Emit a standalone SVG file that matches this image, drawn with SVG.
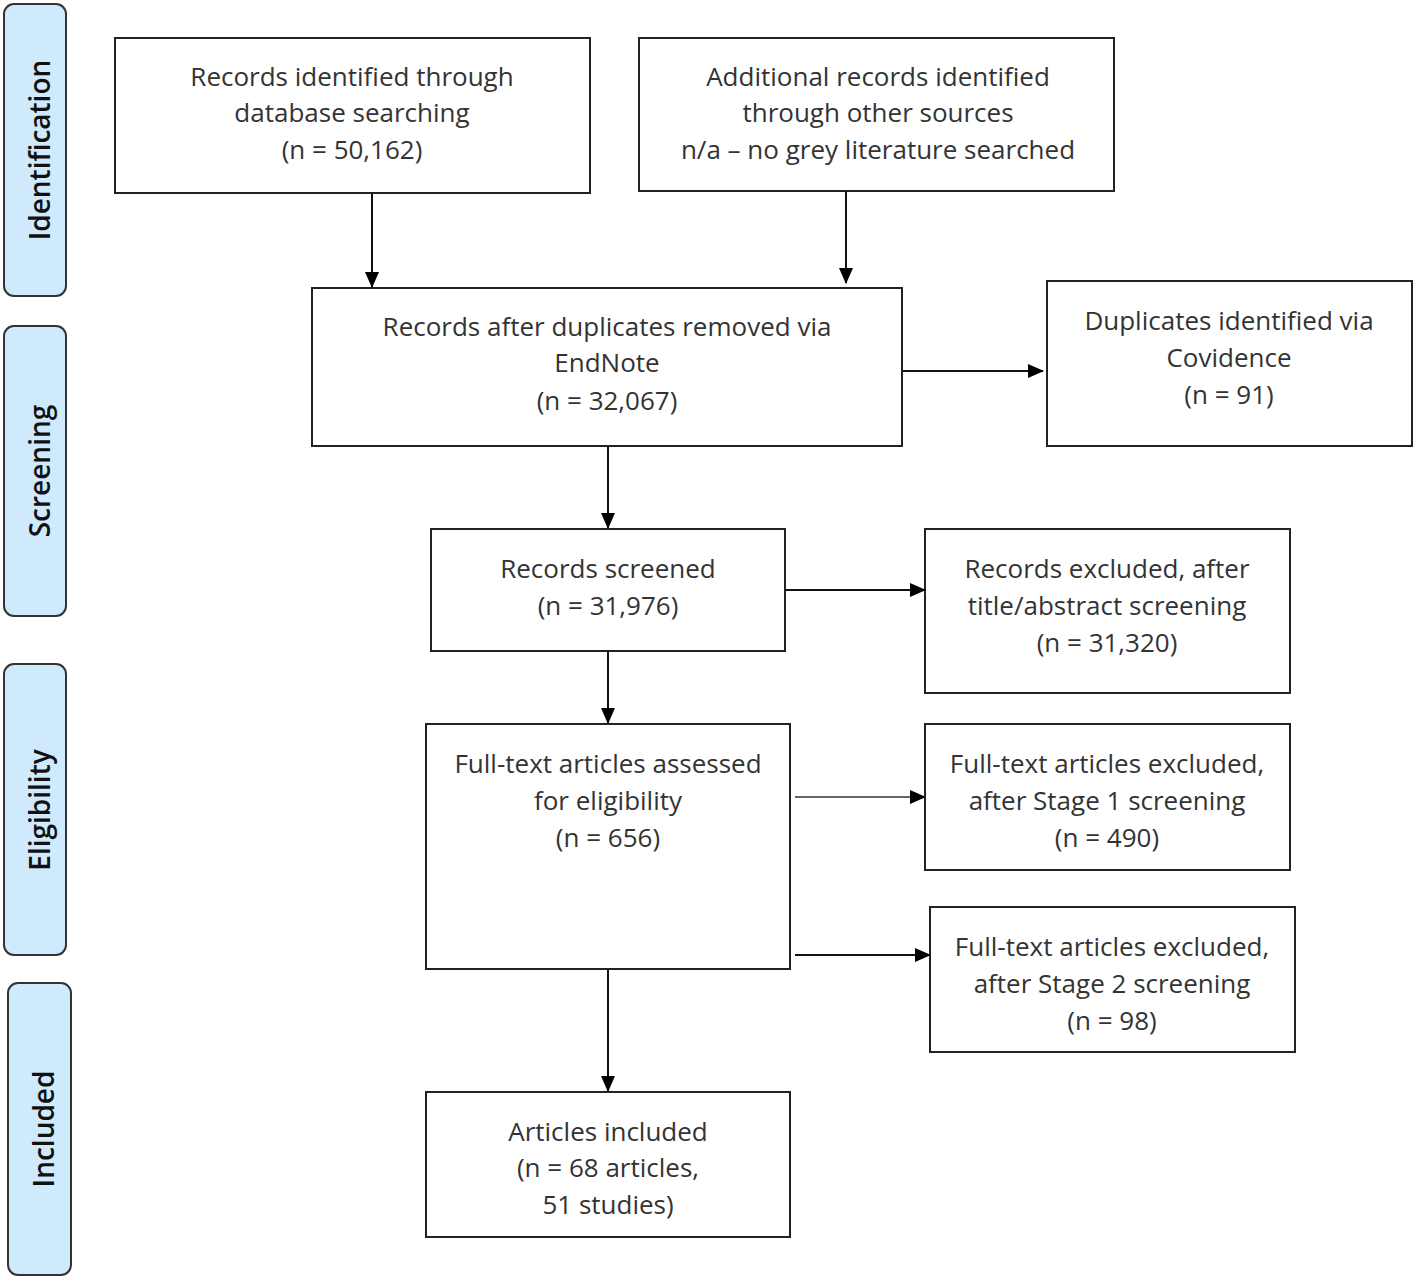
<svg xmlns="http://www.w3.org/2000/svg" width="1416" height="1281" viewBox="0 0 1416 1281">
<style>
.box{fill:#fff;stroke:#222;stroke-width:2}
.side{fill:#cfeafc;stroke:#333;stroke-width:2}
.t{font-family:"Open Sans","Noto Sans",sans-serif;font-size:26px;fill:#333;text-anchor:middle}
.s{font-family:"Open Sans","Noto Sans",sans-serif;font-size:28px;font-weight:600;fill:#111;text-anchor:middle}
.c{stroke:#111;stroke-width:2;fill:none;marker-end:url(#ah)}
</style>
<defs>
<marker id="ah" markerWidth="16" markerHeight="14" refX="15" refY="7" orient="auto" markerUnits="userSpaceOnUse" viewBox="0 0 16 14">
<path d="M0,0 L16,7 L0,14 Z" fill="#000"/>
</marker>
</defs>
<g id="side-identification"><rect class="side" x="4" y="4" width="62" height="292" rx="10"/><text class="s" transform="translate(50,150) rotate(-90)">Identification</text></g>
<g id="side-screening"><rect class="side" x="4" y="326" width="62" height="290" rx="10"/><text class="s" transform="translate(50,471) rotate(-90)">Screening</text></g>
<g id="side-eligibility"><rect class="side" x="4" y="664" width="62" height="291" rx="10"/><text class="s" transform="translate(50,810) rotate(-90)">Eligibility</text></g>
<g id="side-included"><rect class="side" x="8" y="983" width="63" height="292" rx="10"/><text class="s" transform="translate(54,1129) rotate(-90)">Included</text></g>

<g id="n1"><rect class="box" x="115" y="38" width="475" height="155"/>
<text class="t" x="352" y="86">Records identified through</text>
<text class="t" x="352" y="122">database searching</text>
<text class="t" x="352" y="159">(n = 50,162)</text></g>
<g id="n2"><rect class="box" x="639" y="38" width="475" height="153"/>
<text class="t" x="878" y="86">Additional records identified</text>
<text class="t" x="878" y="122">through other sources</text>
<text class="t" x="878" y="159">n/a – no grey literature searched</text></g>
<g id="n3"><rect class="box" x="312" y="288" width="590" height="158"/>
<text class="t" x="607" y="336">Records after duplicates removed via</text>
<text class="t" x="607" y="372">EndNote</text>
<text class="t" x="607" y="410">(n =  32,067)</text></g>
<g id="n4"><rect class="box" x="1047" y="281" width="365" height="165"/>
<text class="t" x="1229" y="330">Duplicates identified via</text>
<text class="t" x="1229" y="367">Covidence</text>
<text class="t" x="1229" y="404">(n = 91)</text></g>
<g id="n5"><rect class="box" x="431" y="529" width="354" height="122"/>
<text class="t" x="608" y="578">Records screened</text>
<text class="t" x="608" y="615">(n = 31,976)</text></g>
<g id="n6"><rect class="box" x="925" y="529" width="365" height="164"/>
<text class="t" x="1107" y="578">Records excluded, after</text>
<text class="t" x="1107" y="615">title/abstract screening</text>
<text class="t" x="1107" y="652">(n = 31,320)</text></g>
<g id="n7"><rect class="box" x="426" y="724" width="364" height="245"/>
<text class="t" x="608" y="773">Full-text articles assessed</text>
<text class="t" x="608" y="810">for eligibility</text>
<text class="t" x="608" y="847">(n = 656)</text></g>
<g id="n8"><rect class="box" x="925" y="724" width="365" height="146"/>
<text class="t" x="1107" y="773">Full-text articles excluded,</text>
<text class="t" x="1107" y="810">after Stage 1 screening</text>
<text class="t" x="1107" y="847">(n = 490)</text></g>
<g id="n9"><rect class="box" x="930" y="907" width="365" height="145"/>
<text class="t" x="1112" y="956">Full-text articles excluded,</text>
<text class="t" x="1112" y="993">after Stage 2 screening</text>
<text class="t" x="1112" y="1030">(n = 98)</text></g>
<g id="n10"><rect class="box" x="426" y="1092" width="364" height="145"/>
<text class="t" x="608" y="1141">Articles included</text>
<text class="t" x="608" y="1177">(n = 68 articles,</text>
<text class="t" x="608" y="1214">51 studies)</text></g>

<g id="connectors">
<line class="c" x1="372" y1="193" x2="372" y2="287"/>
<line class="c" x1="846" y1="191" x2="846" y2="283"/>
<line class="c" x1="903" y1="371" x2="1043" y2="371"/>
<line class="c" x1="608" y1="446" x2="608" y2="528"/>
<line class="c" x1="785" y1="590" x2="925" y2="590"/>
<line class="c" x1="608" y1="651" x2="608" y2="723"/>
<line class="c" x1="795" y1="797" x2="925" y2="797" style="stroke:#666"/>
<line class="c" x1="795" y1="955" x2="930" y2="955"/>
<line class="c" x1="608" y1="969" x2="608" y2="1091"/>
</g>
</svg>
